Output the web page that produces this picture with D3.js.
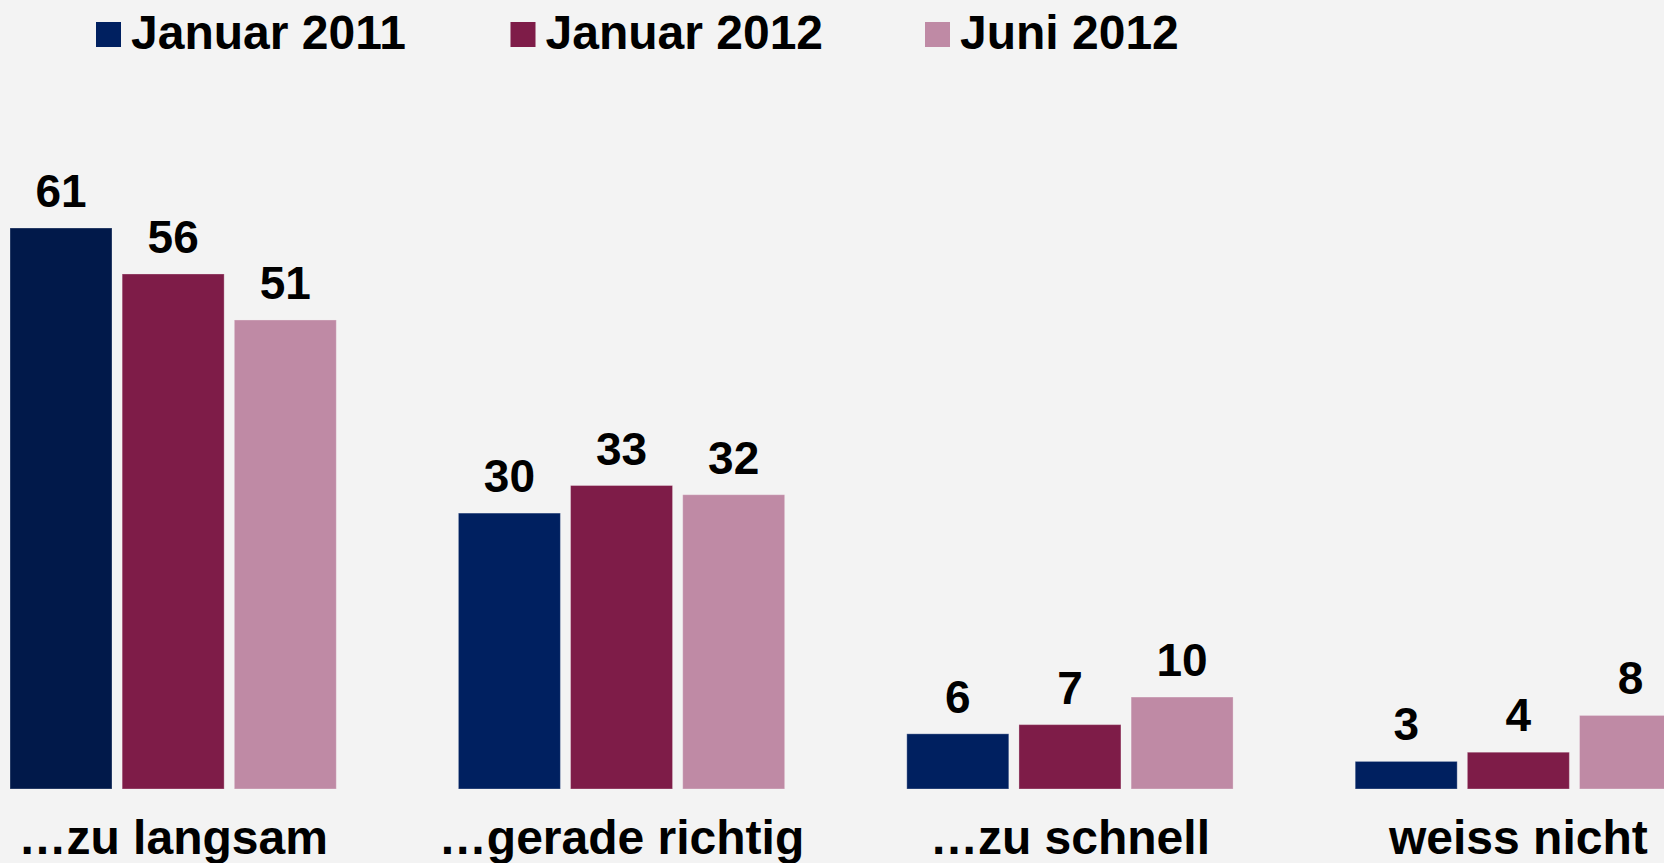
<!DOCTYPE html>
<html>
<head>
<meta charset="utf-8">
<script src="https://cdn.jsdelivr.net/npm/d3@7"></script>
<style>
  html, body { margin: 0; padding: 0; background: #f3f3f3; }
  svg { display: block; }
  text { font-family: "Liberation Sans", Arial, Helvetica, sans-serif; font-weight: bold; fill: #000; }
</style>
</head>
<body>
<div id="chart"></div>
<script>
var categories = ['\u2026zu langsam', '\u2026gerade richtig', '\u2026zu schnell', 'weiss nicht'];
var series = ['Januar 2011', 'Januar 2012', 'Juni 2012'];
var jan2011 = [61, 30, 6, 3];
var jan2012 = [56, 33, 7, 4];
var jun2012 = [51, 32, 10, 8];
var colors = ['#002060', '#7e1c48', '#bf8aa5'];

var width = 1664;
var height = 863;
var valueFont = 46;
var labelFont = 48;

function drawChart() {
  var values = [jan2011, jan2012, jun2012];
  var rows = categories.map(function (c, i) {
    return { category: c, bars: series.map(function (s, j) { return { series: s, value: values[j][i], cat: i }; }) };
  });

  var svg = d3.select('#chart').append('svg')
    .attr('width', width)
    .attr('height', height);

  svg.append('rect')
    .attr('width', width)
    .attr('height', height)
    .attr('fill', '#f3f3f3');

  // group and bar scales
  var x0 = d3.scaleBand()
    .domain(categories)
    .range([10, 1681.5])
    .paddingInner(0.2723)
    .paddingOuter(0);

  var x1 = d3.scaleBand()
    .domain(series)
    .range([0, x0.bandwidth()])
    .paddingInner(0.0905)
    .paddingOuter(0);

  var y = d3.scaleLinear()
    .domain([0, 61])
    .range([789, 228]);

  var color = d3.scaleOrdinal().domain(series).range(colors);

  var groups = svg.selectAll('g.group')
    .data(rows)
    .enter().append('g')
    .attr('class', 'group')
    .attr('transform', function (d) { return 'translate(' + x0(d.category) + ',0)'; });

  groups.selectAll('rect')
    .data(function (d) { return d.bars; })
    .enter().append('rect')
    .attr('x', function (d) { return x1(d.series); })
    .attr('y', function (d) { return y(d.value); })
    .attr('width', x1.bandwidth())
    .attr('height', function (d) { return y(0) - y(d.value); })
    .attr('fill', function (d) {
      // the first bar is a touch darker in the original
      if (d.cat === 0 && d.series === series[0]) return '#01194a';
      return color(d.series);
    })
    .attr('stroke', 'rgba(255,255,255,0.3)')
    .attr('stroke-width', 1);

  // value labels above bars
  groups.selectAll('text.value')
    .data(function (d) { return d.bars; })
    .enter().append('text')
    .attr('class', 'value')
    .attr('x', function (d) { return x1(d.series) + x1.bandwidth() / 2; })
    .attr('y', function (d) { return y(d.value) - 21; })
    .attr('text-anchor', 'middle')
    .style('font-size', valueFont + 'px')
    .text(function (d) { return d.value; });

  // category labels
  var xAxis = d3.axisBottom(x0).tickSize(0).tickPadding(0);
  var axisG = svg.append('g')
    .attr('transform', 'translate(0,' + 854 + ')')
    .call(xAxis);
  axisG.select('.domain').remove();
  axisG.selectAll('text')
    .attr('dy', 0)
    .attr('y', 0)
    .attr('fill', '#000')
    .style('font-size', labelFont + 'px')
    .style('font-family', '"Liberation Sans", Arial, Helvetica, sans-serif')
    .style('font-weight', 'bold');

  // legend
  var legend = svg.selectAll('g.legend')
    .data(series)
    .enter().append('g')
    .attr('class', 'legend')
    .attr('transform', function (d, i) { return 'translate(' + (96 + i * 414.5) + ',22)'; });

  legend.append('rect')
    .attr('width', 25)
    .attr('height', 25)
    .attr('fill', function (d) { return color(d); });

  legend.append('text')
    .attr('x', 35)
    .attr('y', 27)
    .style('font-size', labelFont + 'px')
    .text(function (d) { return d; });
}

drawChart();
</script>
</body>
</html>
